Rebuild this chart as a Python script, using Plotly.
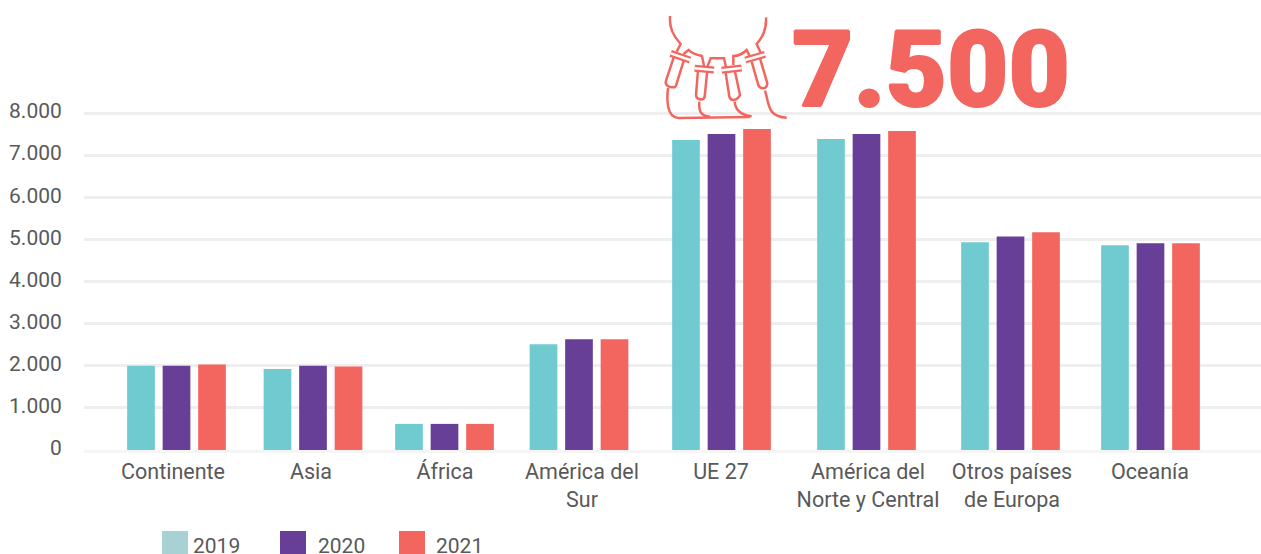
import plotly.graph_objects as go

categories = ["Continente", "Asia", "África", "América del<br>Sur", "UE 27",
              "América del<br>Norte y Central", "Otros países<br>de Europa", "Oceanía"]
v2019 = [2000, 1920, 620, 2510, 7360, 7380, 4930, 4860]
v2020 = [2000, 2000, 620, 2630, 7500, 7500, 5070, 4910]
v2021 = [2030, 1980, 620, 2630, 7620, 7570, 5170, 4910]
years = ["2019", "2020", "2021"]
headline = "7.500"

# layout positions of the groups / labels on a pixel-like horizontal axis
group_pos = [176.5, 313, 444.5, 579, 721.5, 866.5, 1010.5, 1150.5]
label_pos = [173, 311, 445, 582, 721, 868, 1012, 1150]

W, H = 1261, 554
ML, MB, MT = 84, 104, 0
PW, PH = W - ML, H - MB - MT
TEAL, PURPLE, CORAL = "#70CBD0", "#673F97", "#F3665F"
TEXT = "#595959"
FONT = "Roboto"

def px(x, y):
    return (x - ML) / PW, 1 - (y - MT) / PH

def zpath(cmds):
    """icon path given in px-based drawing coordinates -> paper coords"""
    out = []
    for part in cmds:
        letter, pts = part[0], part[1:]
        coords = []
        for i in range(0, len(pts), 2):
            x, y = px(650 + pts[i] / 3, pts[i + 1] / 3)
            coords.append(f"{x:.5f} {y:.5f}")
        out.append(letter + " " + " ".join(coords))
    return " ".join(out)

fig = go.Figure()
for name, vals, col in zip(years, [v2019, v2020, v2021], [TEAL, PURPLE, CORAL]):
    fig.add_bar(x=group_pos, y=vals, name=name, marker=dict(color=col, line_width=0), showlegend=False)

shapes, annots = [], []

# icon
outline = [
    [("M",60,48),("C",58,85,70,108,92,132),("L",80,155)],
    [("M",348,52),("C",350,85,340,110,320,132),("L",332,158)],
    [("M",100,162),("L",116,150),("C",125,160,140,165,156,168),("L",162,198)],
    [("M",172,200),("L",182,175),("L",222,175),("L",228,202)],
    [("M",250,195),("L",250,168),("C",265,168,280,160,290,150),("L",300,170)],
    # syringe bodies
    [("M",72,170),("L",48,242),("C",44,256,56,262,70,262),("C",78,262,78,258,80,250),("L",102,180)],
    [("M",144,210),("L",138,285),("C",138,298,160,305,164,290),("L",172,210)],
    [("M",226,212),("L",238,290),("C",242,305,262,302,270,285),("L",254,210)],
    [("M",305,185),("L",325,255),("C",330,268,350,270,352,250),("L",330,175)],
    # drips
    [("M",54,264),("C",50,300,50,352,85,354),("L",300,351)],
    [("M",148,305),("C",146,330,150,348,180,350)],
    [("M",254,305),("C",256,330,270,345,305,349)],
    [("M",345,272),("C",358,310,350,350,410,353)],
]
caps = [(62,160,120,180),(134,205,192,210),(215,211,275,204),(286,180,345,163)]
for seg in outline:
    d = zpath([(s[0],) + s[1:] for s in seg])
    shapes.append(dict(type="path", xref="paper", yref="paper", path=d,
                       line=dict(color=CORAL, width=2.5), layer="above"))
for (x0, y0, x1, y1) in caps:
    d = zpath([("M", x0, y0), ("L", x1, y1)])
    shapes.append(dict(type="path", xref="paper", yref="paper", path=d,
                       line=dict(color=CORAL, width=7), layer="above"))
    shapes.append(dict(type="path", xref="paper", yref="paper", path=d,
                       line=dict(color="white", width=2.5), layer="above"))

# legend
legend_swatches = ["#A8D1D3", PURPLE, CORAL]
legend_x = [162, 280, 399]
legend_text_x = [191, 316, 434]
for name, col, lx, ltx in zip(years, legend_swatches, legend_x, legend_text_x):
    x0, y0 = px(lx, 531)
    x1, y1 = px(lx + 26, 554)
    shapes.append(dict(type="rect", xref="paper", yref="paper", x0=x0, x1=x1, y0=y0, y1=y1,
                       fillcolor=col, line_width=0))
    tx, ty = px(ltx, 546)
    annots.append(dict(xref="paper", yref="paper", x=tx, y=ty, text=name, showarrow=False,
                       xanchor="left", yanchor="middle", font=dict(family=FONT, size=21, color=TEXT)))

hx, hy = px(931, 70)
annots.append(dict(xref="paper", yref="paper", x=hx, y=hy, text=headline, showarrow=False,
                   xanchor="center", yanchor="middle",
                   font=dict(family=FONT, size=106, color=CORAL, weight=900,
                             shadow=f"1px 0 {CORAL}, -1px 0 {CORAL}, 0 1px {CORAL}, 0 -1px {CORAL}")))

fig.update_layout(
    width=W, height=H, margin=dict(l=ML, r=0, t=MT, b=MB, autoexpand=False),
    plot_bgcolor="white", paper_bgcolor="white", barmode="group",
    bargap=0.19, bargroupgap=0.22, separators=",.",
    font=dict(family=FONT, size=21, color=TEXT),
    shapes=shapes, annotations=annots,
    xaxis=dict(range=[ML, W], tickmode="array", tickvals=label_pos, ticktext=categories,
               showgrid=False, zeroline=False, showline=True, linecolor="rgba(238,238,238,0.6)",
               linewidth=3, layer="above traces", ticks="",
               tickfont=dict(family=FONT, size=21.5, color=TEXT)),
    yaxis=dict(range=[0, PH / 42.125 * 1000], tickmode="array",
               tickvals=[0, 1000, 2000, 3000, 4000, 5000, 6000, 7000, 8000],
               tickformat=",d", showgrid=True, gridcolor="#EEEEEE", gridwidth=3,
               zeroline=False, showline=False, ticks="outside", ticklen=17, tickcolor="rgba(0,0,0,0)",
               ticklabelshift=-2,
               tickfont=dict(family=FONT, size=21, color=TEXT)),
)
fig.write_html("out.html", config=dict(displayModeBar=False),
               post_script="document.body.style.margin='0';")
